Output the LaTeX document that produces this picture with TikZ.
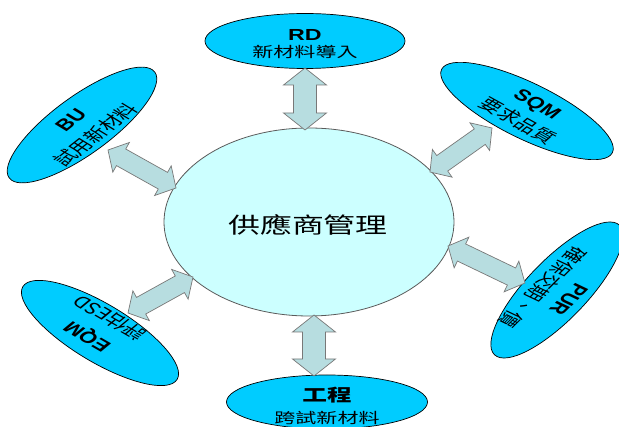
\documentclass[tikz,border=0pt]{standalone}
\usepackage{fontspec}
\setmainfont{Liberation Sans}
\newfontfamily\cjk{Noto Sans CJK TC}
\usetikzlibrary{shapes.geometric,calc}

\definecolor{blobfill}{RGB}{0,204,255}
\definecolor{hubfill}{RGB}{204,255,255}
\definecolor{hubline}{RGB}{90,90,90}
\definecolor{arrfill}{RGB}{183,221,224}
\definecolor{arrline}{RGB}{120,120,120}

\tikzset{
  blob/.style={ellipse, draw=black, line width=0.7pt, fill=blobfill, inner sep=0pt},
  hub/.style={ellipse, draw=hubline, line width=0.8pt, fill=hubfill, inner sep=0pt},
  lbl/.style={align=center, inner sep=0pt, xscale=1.45},
  blockarrow/.style n args={3}{draw=arrline, fill=arrfill, line width=0.7pt,
    to path={let \p1=(\tikztostart), \p2=(\tikztotarget),
      \n1={atan2(\y2-\y1,\x2-\x1)} in
      (\p1) -- ($(\p1)+(\n1:#1)+(\n1+90:#2)$) -- ($(\p1)+(\n1:#1)+(\n1+90:#3)$)
      -- ($(\p2)+(\n1:-#1)+(\n1+90:#3)$) -- ($(\p2)+(\n1:-#1)+(\n1+90:#2)$)
      -- (\p2) -- ($(\p2)+(\n1:-#1)+(\n1-90:#2)$) -- ($(\p2)+(\n1:-#1)+(\n1-90:#3)$)
      -- ($(\p1)+(\n1:#1)+(\n1-90:#3)$) -- ($(\p1)+(\n1:#1)+(\n1-90:#2)$) -- cycle}},
}

\begin{document}
\begin{tikzpicture}[x=1pt,y=-1pt]
\useasboundingbox[fill=white] (0,0) rectangle (619,427);

% ellipses
\node[hub, minimum width=290pt, minimum height=188pt] (hub) at (309,222) {};
\node[blob, minimum width=200pt, minimum height=55pt] (rd) at (305,41) {};
\node[blob, minimum width=201pt, minimum height=54pt] (eng) at (327,402) {};
\node[blob, minimum width=180pt, minimum height=58pt, rotate=36] (bu) at (82,125) {};
\node[blob, minimum width=190pt, minimum height=56pt, rotate=-26] (sqm) at (527,111) {};
\node[blob, minimum width=180pt, minimum height=60pt, rotate=46] (pur) at (557,290) {};
\node[blob, minimum width=180pt, minimum height=58pt, rotate=-31] (eqm) at (100,333) {};

% labels
\node[lbl, font=\fontsize{22}{26}\selectfont\cjk] (hubT) at (308,225) {供應商管理};
\node[lbl, font=\fontsize{14.5}{17.5}\selectfont\cjk] (rdT) at (305,44)
  {{\rmfamily\fontsize{16}{17.5}\selectfont\bfseries RD}\\新材料導入};
\node[lbl, font=\fontsize{14.5}{22}\selectfont\cjk] (engT) at (327,406)
  {{\fontsize{17}{22}\selectfont\bfseries 工程}\\跨試新材料};
\node[lbl, rotate=48.6, font=\fontsize{15.5}{23}\selectfont\cjk] (buT) at (84,128)
  {{\rmfamily\fontsize{16}{23}\selectfont\bfseries BU}\\試用新材料};
\node[lbl, rotate=-38.8, font=\fontsize{15.5}{22}\selectfont\cjk] (sqmT) at (527,113)
  {{\rmfamily\fontsize{16}{22}\selectfont\bfseries SQM}\\要求品質};
\node[lbl, rotate=235.4, font=\fontsize{15.5}{22}\selectfont\cjk] (purT) at (555,293)
  {{\rmfamily\fontsize{16}{22}\selectfont\bfseries PUR}\\確保交期、價};
\node[lbl, rotate=140.1, font=\fontsize{15.5}{25}\selectfont\cjk] (eqmT) at (99,327)
  {{\rmfamily\fontsize{16}{25}\selectfont\bfseries EQM}\\評估ESD};

% arrow end points
\coordinate (rdA) at (305,68);  \coordinate (rdB) at (305,130);
\coordinate (engA) at (314,315); \coordinate (engB) at (314,376);
\coordinate (buA) at (108,150); \coordinate (buB) at (176,188);
\coordinate (sqmA) at (430,172); \coordinate (sqmB) at (492,128);
\coordinate (purA) at (448,246); \coordinate (purB) at (525,283);
\coordinate (eqmA) at (193,277); \coordinate (eqmB) at (128,313);

\draw[blockarrow={17pt}{21.5pt}{11.5pt}] (rdA) to (rdB);
\draw[blockarrow={17pt}{21.5pt}{11.5pt}] (engA) to (engB);
\draw[blockarrow={15pt}{17pt}{9.5pt}] (buA) to (buB);
\draw[blockarrow={15pt}{17pt}{9.5pt}] (sqmA) to (sqmB);
\draw[blockarrow={15pt}{17pt}{9.5pt}] (purA) to (purB);
\draw[blockarrow={15pt}{17pt}{9.5pt}] (eqmA) to (eqmB);
\end{tikzpicture}
\end{document}
